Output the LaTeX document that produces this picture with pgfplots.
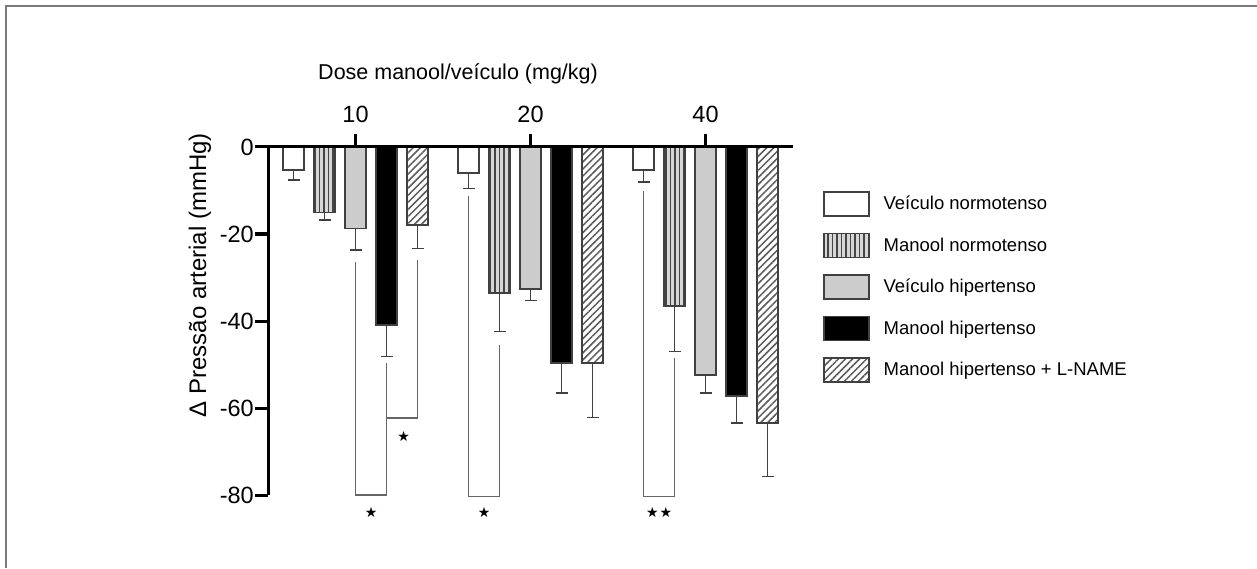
\documentclass[border=0pt]{standalone}
\usepackage{pgfplots}
\pgfplotsset{compat=1.18}
\usetikzlibrary{patterns.meta}
\usepackage{fontspec}
\setmainfont{Liberation Sans}
\newfontfamily\symfont{DejaVu Sans}
\definecolor{edge}{HTML}{404040}
\definecolor{brk}{HTML}{666666}
\definecolor{lgray}{HTML}{CCCCCC}
\definecolor{stripebg}{HTML}{D6D6D6}
\definecolor{stripe}{HTML}{454545}
\definecolor{hatch}{HTML}{5A5A5A}
\definecolor{frame}{HTML}{7A7A7A}
\pgfplotsset{
  mybar/.style={ybar, bar width=21pt, bar shift=0pt, draw=edge, line width=1.5pt,
    error bars/.cd, y dir=minus, y explicit,
    error bar style={draw=edge, line width=1.5pt},
    error mark options={rotate=90, mark size=6pt, line width=1.5pt, draw=edge},
    /pgfplots/.cd,
    legend image code/.code={\draw[##1, line width=1.5pt] (0pt,-12pt) rectangle (45pt,12pt);}},
  brack/.style={draw=brk, line width=1.3pt, sharp plot, mark=none, forget plot},
}
\begin{document}
\begin{tikzpicture}[x=1pt,y=1pt]
\path[use as bounding box] (0,0) rectangle (1257,568);
\draw[frame, line width=2pt] (6,0) -- (6,562) -- (1257,562);
\begin{axis}[
  at={(268pt,73pt)}, anchor=south west,
  scale only axis, width=525pt, height=348pt,
  xmin=0.5, xmax=3.5, ymin=-80, ymax=0,
  axis x line=top, axis y line=left,
  axis line style={-, line width=3pt, black},
  tick align=outside, major tick length=13pt,
  tick style={line width=3pt, black},
  xtick={1,2,3}, xticklabels={10,20,40},
  ytick={-80,-60,-40,-20,0}, yticklabels={-80,-60,-40,-20,0},
  ticklabel style={font=\fontsize{23.5}{27}\selectfont},
  yticklabel style={inner sep=1pt},
  xticklabel style={inner sep=2pt, yshift=9pt},
  xlabel={Dose manool/veículo (mg/kg)},
  xlabel style={at={(axis description cs:0.362,1)}, anchor=center, yshift=73pt, font=\fontsize{21.5}{25}\selectfont},
  ylabel={Δ Pressão arterial (mmHg)},
  ylabel style={at={(axis description cs:-0.1295,0.632)}, anchor=center, font=\fontsize{24}{28}\selectfont},
  clip=false, axis on top,
  legend style={at={(1.057,0.874)}, anchor=north west, draw=none, fill=none,
    inner sep=0pt, row sep=16pt, font=\fontsize{18.5}{22}\selectfont,
    nodes={inner sep=0pt, anchor=west},
    /tikz/every odd column/.append style={column sep=14pt}},
  legend cell align=left,
]
\addplot[mybar, fill=white] coordinates {
  (0.64571,-5.3) +- (0,2.3)
  (1.64571,-6.0) +- (0,3.5)
  (2.64571,-5.3) +- (0,2.7)
};
\addlegendentry{Veículo normotenso}
\addplot[mybar, fill=stripebg,
  postaction={pattern={Lines[angle=90, distance=4.5pt, line width=1.7pt]}, pattern color=stripe}] coordinates {
  (0.82286,-15.1) +- (0,1.7)
  (1.82286,-33.6) +- (0,8.8)
  (2.82286,-36.6) +- (0,10.4)
};
\addlegendentry{Manool normotenso}
\addplot[mybar, fill=lgray] coordinates {
  (1,-18.7) +- (0,5.0)
  (2,-32.6) +- (0,2.7)
  (3,-52.4) +- (0,4.2)
};
\addlegendentry{Veículo hipertenso}
\addplot[mybar, fill=black] coordinates {
  (1.17714,-40.9) +- (0,7.3)
  (2.17714,-49.7) +- (0,6.9)
  (3.17714,-57.2) +- (0,6.2)
};
\addlegendentry{Manool hipertenso}
\addplot[mybar, fill=white,
  postaction={pattern={Lines[angle=45, distance=5pt, line width=1.5pt]}, pattern color=hatch}] coordinates {
  (1.35429,-17.9) +- (0,5.4)
  (2.35429,-49.7) +- (0,12.5)
  (3.35429,-63.4) +- (0,12.3)
};
\addlegendentry{Manool hipertenso + L-NAME}
% significance brackets
\addplot[brack] coordinates {(1.0,-26.4) (1.0,-80) (1.17714,-80) (1.17714,-49.7)};
\addplot[brack] coordinates {(1.17714,-62.3) (1.35429,-62.3) (1.35429,-26.0)};
\addplot[brack] coordinates {(1.64571,-11.2) (1.64571,-80.3) (1.82286,-80.3) (1.82286,-45.5)};
\addplot[brack] coordinates {(2.64571,-10.2) (2.64571,-80.3) (2.82286,-80.3) (2.82286,-48.4)};
\node[font=\symfont\fontsize{14}{16}\selectfont] at (axis cs:1.089,-84) {★};
\node[font=\symfont\fontsize{14}{16}\selectfont] at (axis cs:1.275,-66.5) {★};
\node[font=\symfont\fontsize{14}{16}\selectfont] at (axis cs:1.735,-84) {★};
\node[font=\symfont\fontsize{14}{16}\selectfont, inner sep=0pt] at (axis cs:2.735,-84) {★\kern1pt★};
\end{axis}
\end{tikzpicture}
\end{document}
